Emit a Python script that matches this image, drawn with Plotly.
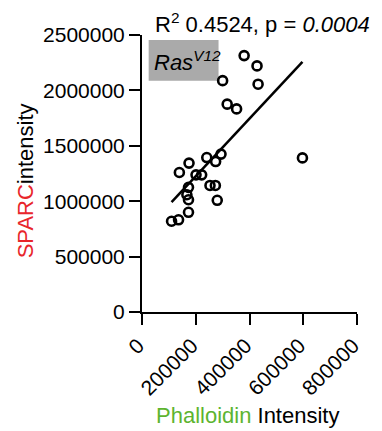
import numpy as np
import plotly.graph_objects as go

# Data
phalloidin = [380000, 428000, 300000, 432000, 317000, 352000, 597000, 294000, 274000,
              241000, 175000, 139000, 201000, 222000, 173000, 253000, 273000, 167000,
              173000, 280000, 173000, 136000, 110000]
sparc = [2314000, 2221000, 2088000, 2056000, 1876000, 1833000, 1391000, 1425000, 1358000,
         1394000, 1344000, 1259000, 1238000, 1238000, 1125000, 1142000, 1142000, 1058000,
         1013000, 1008000, 900000, 832000, 819000]
x_ticks = [0, 200000, 400000, 600000, 800000]
y_ticks = [0, 500000, 1000000, 1500000, 2000000, 2500000]
stats_text = "R<sup>2</sup> 0.4524, p = <i>0.0004</i>"
group_label = "<i>Ras<sup>V12</sup></i>"

FONT = "Arial, Liberation Sans, sans-serif"

slope, intercept = np.polyfit(phalloidin, sparc, 1)
fx = [min(phalloidin), max(phalloidin)]
fy = [slope * v + intercept for v in fx]

fig = go.Figure()
fig.add_trace(go.Scatter(x=fx, y=fy, mode="lines",
                         line=dict(color="black", width=2.5), hoverinfo="skip"))
fig.add_trace(go.Scatter(x=phalloidin, y=sparc, mode="markers",
                         marker=dict(symbol="circle-open", size=9, color="black",
                                     line=dict(width=2.6, color="black"))))

axis_common = dict(showgrid=False, zeroline=False, showline=True, linecolor="black",
                   linewidth=2, ticks="outside", ticklen=11, tickwidth=2,
                   tickcolor="black", automargin=False,
                   tickfont=dict(family=FONT, size=21, color="black"))

fig.update_xaxes(range=[0, 800000], tickvals=x_ticks, ticktext=[str(v) for v in x_ticks],
                 tickangle=-45, ticklabelshift=-4, **axis_common)
fig.update_yaxes(range=[0, 2500000], tickvals=y_ticks, ticktext=[str(v) for v in y_ticks],
                 **axis_common)

fig.add_shape(type="rect", xref="paper", yref="paper", x0=0.031, x1=0.356, y0=0.835,
              y1=0.982, fillcolor="#aaaaaa", line=dict(width=0), layer="below")

fig.update_layout(
    width=382, height=431,
    margin=dict(l=142, r=25, t=35, b=119, autoexpand=False),
    plot_bgcolor="white", paper_bgcolor="white",
    showlegend=False,
    annotations=[
        dict(text=stats_text, xref="paper", yref="paper", x=0.05, y=1.0,
             xanchor="left", yanchor="bottom", yshift=-4, showarrow=False,
             font=dict(family=FONT, size=22, color="black")),
        dict(text=group_label, xref="paper", yref="paper", x=0.045, y=0.905,
             xanchor="left", yanchor="middle", showarrow=False,
             font=dict(family=FONT, size=22, color="black")),
        dict(text="<span style='color:#e8262b'>SPARC</span>intensity", xref="paper",
             yref="paper", x=-0.54, y=0.475, xanchor="center", yanchor="middle",
             textangle=-90, showarrow=False,
             font=dict(family=FONT, size=22, color="black")),
        dict(text="<span style='color:#5db42f'>Phalloidin</span> Intensity",
             xref="paper", yref="paper", x=0.49, y=-0.372, xanchor="center",
             yanchor="middle", showarrow=False,
             font=dict(family=FONT, size=22, color="black")),
    ],
)

fig.write_html("out.html", config={"displayModeBar": False},
               post_script="document.body.style.margin='0';document.body.style.padding='0';")
